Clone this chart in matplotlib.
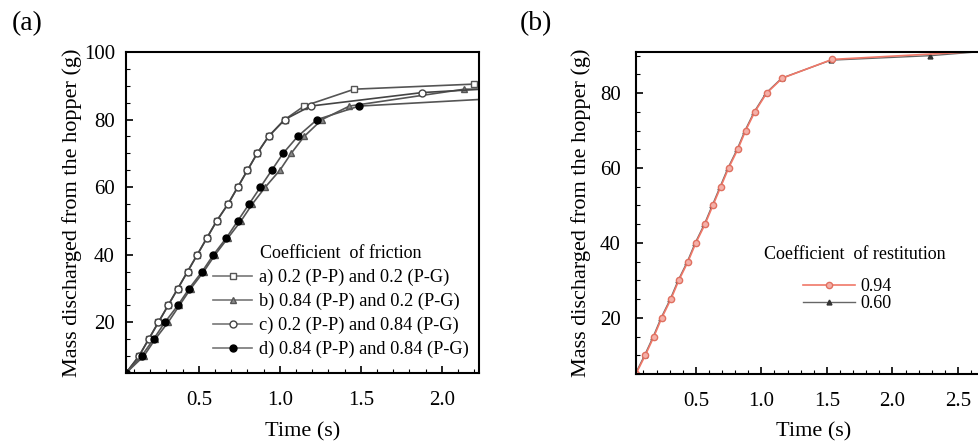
import matplotlib
matplotlib.use("Agg")
import matplotlib.pyplot as plt
from matplotlib.ticker import MultipleLocator

plt.rcParams['font.family'] = ['Liberation Serif', 'DejaVu Serif']

# panel (a): mass discharged vs time for four friction settings
mass_a = [5, 10, 15, 20, 25, 30, 35, 40, 45, 50, 55, 60, 65, 70, 75, 80]
t_upper = [0.05, 0.13, 0.19, 0.25, 0.31, 0.37, 0.43, 0.49, 0.55, 0.61, 0.68, 0.74, 0.80, 0.86, 0.93, 1.03]
t_d = [0.05, 0.146, 0.22, 0.29, 0.37, 0.44, 0.52, 0.59, 0.67, 0.74, 0.81, 0.88, 0.95, 1.02, 1.11, 1.23]
t_b = [0.05, 0.16, 0.23, 0.31, 0.38, 0.45, 0.53, 0.60, 0.68, 0.76, 0.83, 0.91, 1.00, 1.07, 1.15, 1.26]

t_a = t_upper + [1.15, 1.46, 2.20]
m_a = mass_a + [84, 89, 90.5]
t_c = t_upper + [1.19, 1.88, 2.25]
m_c = mass_a + [84, 88, 89]
t_b_full = t_b + [1.43, 2.14, 2.25]
m_b = mass_a + [84, 89, 89]
t_d_full = t_d + [1.49, 2.25]
m_d = mass_a + [84, 86]

labels_a = ['a) 0.2 (P-P) and 0.2 (P-G)', 'b) 0.84 (P-P) and 0.2 (P-G)',
            'c) 0.2 (P-P) and 0.84 (P-G)', 'd) 0.84 (P-P) and 0.84 (P-G)']

# panel (b): two restitution coefficients
t_r = [0.043, 0.114, 0.18, 0.24, 0.31, 0.37, 0.44, 0.50, 0.57, 0.63, 0.69, 0.75, 0.82, 0.88, 0.95, 1.04, 1.16, 1.54]
m_r = [5, 10, 15, 20, 25, 30, 35, 40, 45, 50, 55, 60, 65, 70, 75, 80, 84, 89]
t_094 = t_r + [2.75]
m_094 = m_r + [91.3]
t_060 = [t - 0.005 for t in t_r[:-1]] + [1.53, 2.29, 2.75]
m_060 = m_r[:-1] + [88.8, 90, 91.3]
labels_b = ['0.94', '0.60']

fig = plt.figure(figsize=(9.79, 4.43), dpi=100)

ax1 = fig.add_axes([0.1287, 0.158, 0.3606, 0.7246])
gray = '#555555'
ax1.plot(t_a, m_a, '-', color=gray, lw=1.2, marker='s', ms=4, mfc='white', mec=gray, label=labels_a[0])
ax1.plot(t_b_full, m_b, '-', color=gray, lw=1.2, marker='^', ms=4.5, mfc='#888888', mec=gray, label=labels_a[1])
ax1.plot(t_c, m_c, '-', color='#444444', lw=1.2, marker='o', ms=5, mfc='white', mec='#444444', label=labels_a[2])
ax1.plot(t_d_full, m_d, '-', color=gray, lw=1.2, marker='o', ms=5, mfc='black', mec='black', label=labels_a[3])
ax1.set_xlim(0.05, 2.23)
ax1.set_ylim(5, 100)
ax1.set_xticks([0.5, 1.0, 1.5, 2.0])
ax1.set_yticks([20, 40, 60, 80, 100])
ax1.xaxis.set_minor_locator(MultipleLocator(0.1))
ax1.yaxis.set_minor_locator(MultipleLocator(5))
ax1.set_xlabel('Time (s)', fontsize=16, labelpad=9)
ax1.set_ylabel('Mass discharged from the hopper (g)', fontsize=16, labelpad=1)
ax1.tick_params(axis='y', pad=8)
leg1 = ax1.legend(title='Coefficient  of friction', loc='lower right', bbox_to_anchor=(1.018, -0.005),
                  frameon=False, fontsize=13.2, title_fontsize=13, handlelength=2.1,
                  labelspacing=0.36, handletextpad=0.4)
for lh in leg1.get_lines():
    lh.set_color('#777777')

ax2 = fig.add_axes([0.6496, 0.1558, 0.3624, 0.727])
ax2.plot(t_060, m_060, '-', color='#666666', lw=1.0, marker='^', ms=3.5, mfc='#333333', mec='#333333', label=labels_b[1])
ax2.plot(t_094, m_094, '-', color='#f07868', lw=1.2, marker='o', ms=4.5, mfc='#f4b0a8', mec='#e07060', label=labels_b[0])
ax2.set_xlim(0.043, 2.75)
ax2.set_ylim(5, 91)
ax2.set_xticks([0.5, 1.0, 1.5, 2.0, 2.5])
ax2.set_yticks([20, 40, 60, 80])
ax2.xaxis.set_minor_locator(MultipleLocator(0.1))
ax2.yaxis.set_minor_locator(MultipleLocator(5))
ax2.set_xlabel('Time (s)', fontsize=16, labelpad=8)
ax2.set_ylabel('Mass discharged from the hopper (g)', fontsize=16, labelpad=6)
ax2.tick_params(axis='y', pad=11)
h, l = ax2.get_legend_handles_labels()
ax2.text(0.617, 0.37, 'Coefficient  of restitution', transform=ax2.transAxes,
         ha='center', va='center', fontsize=13)
ax2.legend(h[::-1], l[::-1], loc='upper left', bbox_to_anchor=(0.47, 0.298),
           frameon=False, fontsize=13, handlelength=2.9, labelspacing=0.0,
           handletextpad=0.3, borderpad=0, borderaxespad=0)

for ax in (ax1, ax2):
    ax.tick_params(which='both', direction='in', top=False, right=False, labelsize=15)
    ax.tick_params(axis='x', pad=13)
    ax.tick_params(which='major', length=5, width=1.2)
    ax.tick_params(which='minor', length=3, width=0.8)
    for s in ax.spines.values():
        s.set_linewidth(1.5)

fig.text(0.012, 0.975, '(a)', fontsize=20, va='top')
fig.text(0.531, 0.975, '(b)', fontsize=20, va='top')

fig.savefig('out.png', dpi=100)
